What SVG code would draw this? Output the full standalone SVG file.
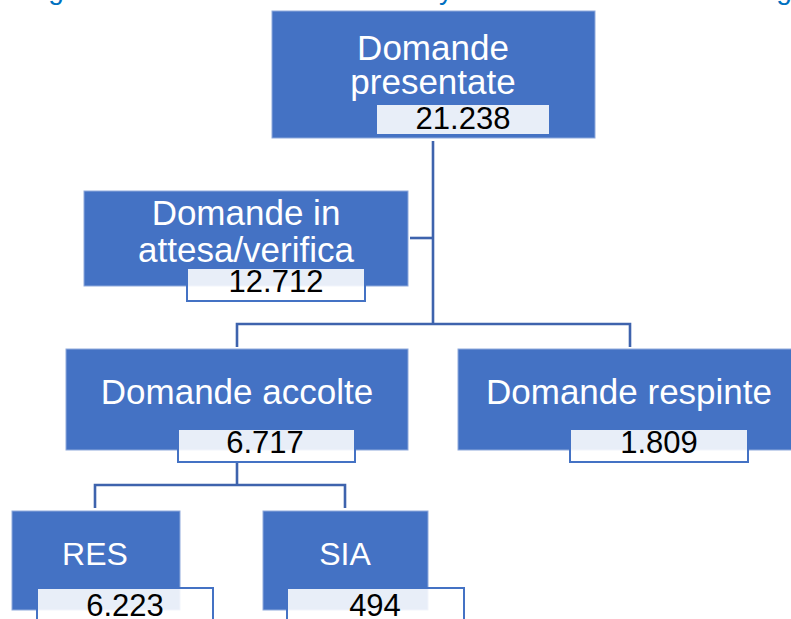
<svg xmlns="http://www.w3.org/2000/svg" width="791" height="619" viewBox="0 0 791 619">
<style>
.node{fill:#4472C4;stroke:#8FAADC;stroke-width:1}
.val{fill:#ffffff;fill-opacity:0.88;stroke:#4472C4;stroke-width:2}
.lbl{font-family:"Liberation Sans",Arial,sans-serif;font-size:35px;fill:#ffffff;text-anchor:middle}
.num{font-family:"Liberation Sans",Arial,sans-serif;font-size:31px;fill:#000000;text-anchor:middle}
.conn{fill:none;stroke:#3E63AD;stroke-width:2.6}
.head{font-family:"Liberation Sans",Arial,sans-serif;font-size:28px;fill:#0070C0;text-anchor:middle}
</style>
<rect width="791" height="619" fill="#ffffff"/>
<g id="heading">
<text class="head" x="56" y="-1">g</text>
<text class="head" x="446" y="-1">y</text>
<text class="head" x="784" y="-1">g</text>
</g>
<g id="connectors">
<path class="conn" d="M433 141 V324"/>
<path class="conn" d="M410 238 H433"/>
<path class="conn" d="M237 347 V324 H630 V347"/>
<path class="conn" d="M237 462 V485"/>
<path class="conn" d="M95 508 V485 H345 V508"/>
</g>
<g id="n-presentate">
<rect class="node" x="272" y="11" width="323" height="127"/>
<text class="lbl" x="433" y="60">Domande</text>
<text class="lbl" x="433" y="94">presentate</text>
<rect class="val" x="376" y="104" width="174" height="31"/>
<text class="num" x="463" y="129">21.238</text>
</g>
<g id="n-attesa">
<rect class="node" x="84" y="191" width="324" height="95"/>
<text class="lbl" x="246" y="225">Domande in</text>
<text class="lbl" x="246" y="262">attesa/verifica</text>
<rect class="val" x="187" y="268" width="178" height="33"/>
<text class="num" x="276" y="292">12.712</text>
</g>
<g id="n-accolte">
<rect class="node" x="66" y="349" width="342" height="101"/>
<text class="lbl" x="237" y="404">Domande accolte</text>
<rect class="val" x="178" y="429" width="177" height="33"/>
<text class="num" x="265" y="453">6.717</text>
</g>
<g id="n-respinte">
<rect class="node" x="458" y="349" width="342" height="101"/>
<text class="lbl" x="629" y="404">Domande respinte</text>
<rect class="val" x="570" y="429" width="178" height="33"/>
<text class="num" x="659" y="453">1.809</text>
</g>
<g id="n-res">
<rect class="node" x="12" y="511" width="168" height="99"/>
<text class="lbl" x="95" y="565" style="font-size:32px">RES</text>
<rect class="val" x="37" y="588" width="176" height="40"/>
<text class="num" x="125" y="616">6.223</text>
</g>
<g id="n-sia">
<rect class="node" x="263" y="511" width="165" height="99"/>
<text class="lbl" x="345" y="565" style="font-size:32px">SIA</text>
<rect class="val" x="287" y="588" width="177" height="40"/>
<text class="num" x="375" y="616">494</text>
</g>
</svg>
